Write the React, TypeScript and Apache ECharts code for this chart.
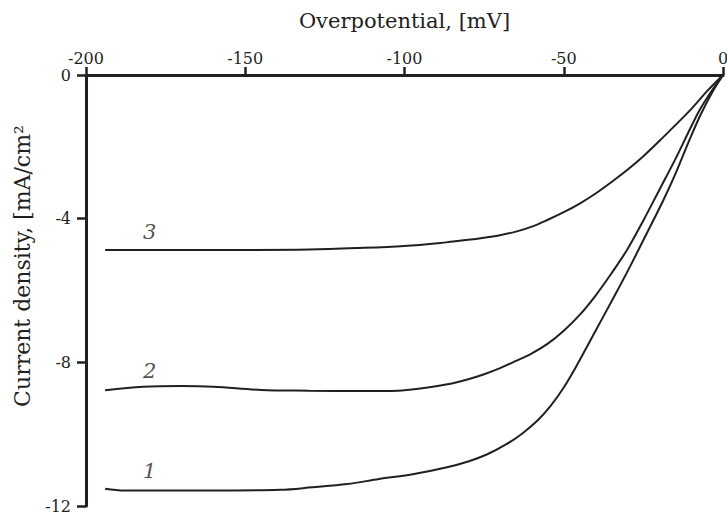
import React, { useEffect, useRef } from "react";
import * as echarts from "echarts";

const xTitle = "Overpotential, [mV]";
const yTitle = "Current density, [mA/cm²";
const xTicks = { min: -200, max: 0, interval: 50 };
const yTicks = { min: -12, max: 0, interval: 4 };

const curve1: [number, number][] = [
  [-194, -11.52], [-188, -11.57], [-160, -11.57], [-139, -11.55], [-129, -11.48],
  [-118, -11.39], [-108, -11.25], [-97, -11.11], [-87, -10.93], [-80, -10.76],
  [-74, -10.56], [-68, -10.28], [-63, -9.98], [-58, -9.6], [-54, -9.2],
  [-50, -8.7], [-46, -8.1], [-40, -7.12], [-34, -6.14], [-29, -5.3],
  [-24, -4.42], [-18.7, -3.48], [-14.5, -2.66], [-10.4, -1.78], [-7, -1.1],
  [-3.5, -0.5], [0, 0],
];
const curve2: [number, number][] = [
  [-194, -8.78], [-182, -8.68], [-170, -8.66], [-160, -8.68], [-145, -8.77],
  [-130, -8.79], [-114, -8.8], [-102, -8.79], [-95, -8.73], [-87, -8.62],
  [-80, -8.47], [-75, -8.33], [-70, -8.16], [-65, -7.96], [-60, -7.75],
  [-55, -7.48], [-50, -7.12], [-45, -6.68], [-40, -6.14], [-35, -5.52],
  [-30, -4.85], [-25, -4.05], [-20, -3.2], [-15, -2.35], [-11, -1.62],
  [-7.5, -1.0], [-4, -0.5], [0, 0],
];
const curve3: [number, number][] = [
  [-194, -4.87], [-150, -4.87], [-130, -4.86], [-115, -4.82], [-100, -4.76],
  [-87, -4.66], [-80, -4.59], [-75, -4.53], [-70, -4.46], [-65, -4.36],
  [-60, -4.22], [-55, -4.03], [-50, -3.82], [-45, -3.58], [-40, -3.3],
  [-35, -2.98], [-30, -2.64], [-25, -2.26], [-20, -1.84], [-15, -1.4],
  [-10, -0.95], [-5, -0.45], [0, 0],
];
const curveNames = ["1", "2", "3"];
const curveLabelPos: [number, number][] = [
  [-180, -11.03],
  [-180, -8.23],
  [-180, -4.38],
];

const FONT = "DejaVu Serif";
const INK = "#231f20";

export default function App() {
  const ref = useRef<HTMLDivElement>(null);
  useEffect(() => {
    if (!ref.current) return;
    const chart = echarts.init(ref.current, undefined, { renderer: "svg" });
    const curves = [curve1, curve2, curve3];
    chart.setOption({
      animation: false,
      backgroundColor: "#ffffff",
      textStyle: { fontFamily: FONT },
      grid: { left: 86, right: 4, top: 75, bottom: 9, containLabel: false, outerBoundsMode: "none" },
      xAxis: {
        type: "value",
        position: "top",
        min: xTicks.min,
        max: xTicks.max,
        interval: xTicks.interval,
        name: xTitle,
        nameLocation: "middle",
        nameGap: 44,
        nameTextStyle: { fontFamily: FONT, fontSize: 21, color: INK },
        axisLine: { show: true, onZero: false, lineStyle: { color: INK, width: 3 } },
        axisTick: { show: true, inside: false, length: 8, lineStyle: { color: INK, width: 2.5 } },
        axisLabel: { fontFamily: FONT, fontSize: 16, color: INK, margin: 9 },
        splitLine: { show: false },
      },
      yAxis: {
        type: "value",
        min: yTicks.min,
        max: yTicks.max,
        interval: yTicks.interval,
        axisLine: { show: true, onZero: false, lineStyle: { color: INK, width: 3 } },
        axisTick: { show: true, inside: false, length: 9, lineStyle: { color: INK, width: 2.5 } },
        axisLabel: { fontFamily: FONT, fontSize: 16, color: INK, margin: 15 },
        splitLine: { show: false },
      },
      graphic: [
        {
          type: "text",
          x: 22,
          y: 266,
          rotation: Math.PI / 2,
          style: {
            text: yTitle,
            fontFamily: FONT,
            fontSize: 22,
            fill: INK,
            textAlign: "center",
            textVerticalAlign: "middle",
          },
        },
      ],
      series: [
        ...curves.map((data, i) => ({
          type: "line",
          name: curveNames[i],
          data,
          showSymbol: false,
          smooth: 0.35,
          lineStyle: { color: INK, width: 2 },
          itemStyle: { color: INK },
        })),
        {
          type: "scatter",
          symbolSize: 0.1,
          itemStyle: { color: "rgba(0,0,0,0)" },
          data: curveLabelPos.map((p, i) => ({ value: p, name: curveNames[i] })),
          label: {
            show: true,
            position: "inside",
            formatter: (p: any) => p.name,
            fontFamily: FONT,
            fontStyle: "italic",
            fontSize: 21,
            color: INK,
          },
          silent: true,
        },
      ],
    });
    return () => chart.dispose();
  }, []);
  return (
    <div
      ref={ref}
      style={{ position: "fixed", left: 0, top: 0, width: 727, height: 515, background: "#fff" }}
    />
  );
}
